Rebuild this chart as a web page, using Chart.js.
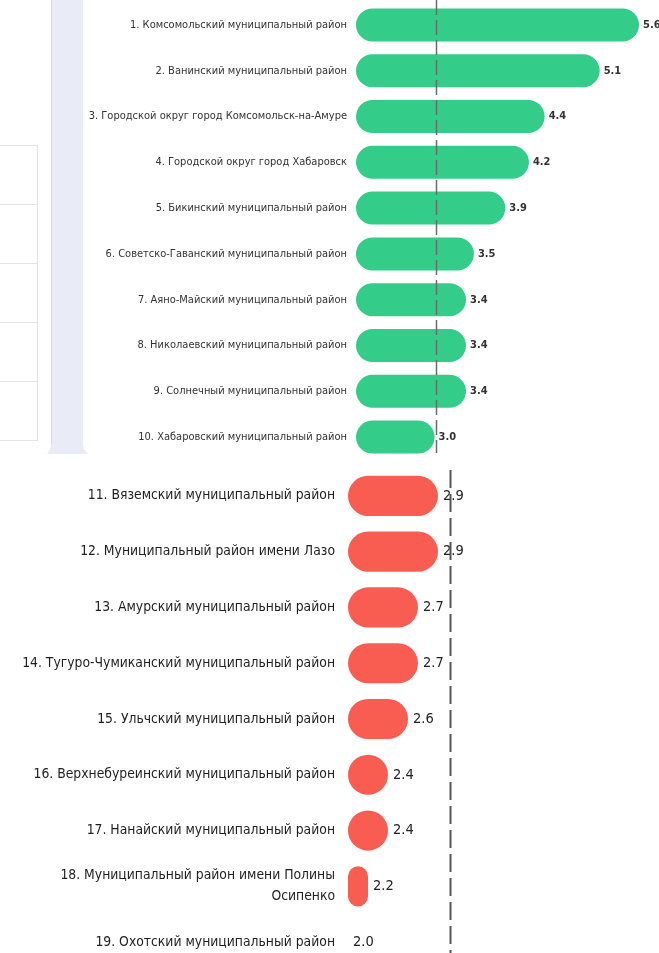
<!DOCTYPE html>
<html>
<head>
<meta charset="utf-8">
<script src="https://cdn.jsdelivr.net/npm/chart.js@4.4.1/dist/chart.umd.min.js"></script>
<style>
  html, body { margin:0; padding:0; background:#ffffff; width:659px; height:953px; overflow:hidden; }
  body { position:relative; }
  .tbl-v { position:absolute; left:37px; top:145px; width:1px; height:296px; background:#e4e4e8; }
  .tbl-h { position:absolute; left:0; width:38px; height:1px; background:#e4e4e8; }
  #panel { position:absolute; left:51px; top:0; width:32px; height:446px; background:#e9ecf7; border-left:1px solid #d8dbe7; box-sizing:border-box; }
  #panelFoot { position:absolute; left:47px; top:445px; width:41px; height:9px; background:#e9ecf7;
    clip-path: polygon(4px 0, 36px 0, 37px 4px, 41px 9px, 0 9px, 3px 4px); }
  #topWrap { position:absolute; left:0; top:0; width:659px; height:460px; }
  #botWrap { position:absolute; left:0; top:468px; width:659px; height:502px; }
  canvas { display:block; }
</style>
</head>
<body>
<div class="tbl-v"></div>
<div class="tbl-h" style="top:145px"></div>
<div class="tbl-h" style="top:204px"></div>
<div class="tbl-h" style="top:263px"></div>
<div class="tbl-h" style="top:322px"></div>
<div class="tbl-h" style="top:381px"></div>
<div class="tbl-h" style="top:440px"></div>
<div id="panel"></div>
<div id="panelFoot"></div>
<div id="topWrap"><canvas id="topChart" width="659" height="460"></canvas></div>
<div id="botWrap"><canvas id="botChart" width="659" height="502"></canvas></div>
<script>
// ---- data ----
const topLabels = [
  '1. Комсомольский муниципальный район',
  '2. Ванинский муниципальный район',
  '3. Городской округ город Комсомольск-на-Амуре',
  '4. Городской округ город Хабаровск',
  '5. Бикинский муниципальный район',
  '6. Советско-Гаванский муниципальный район',
  '7. Аяно-Майский муниципальный район',
  '8. Николаевский муниципальный район',
  '9. Солнечный муниципальный район',
  '10. Хабаровский муниципальный район'
];
const topValues = [5.6, 5.1, 4.4, 4.2, 3.9, 3.5, 3.4, 3.4, 3.4, 3.0];

const bottomLabels = [
  '11. Вяземский муниципальный район',
  '12. Муниципальный район имени Лазо',
  '13. Амурский муниципальный район',
  '14. Тугуро-Чумиканский муниципальный район',
  '15. Ульчский муниципальный район',
  '16. Верхнебуреинский муниципальный район',
  '17. Нанайский муниципальный район',
  ['18. Муниципальный район имени Полины', 'Осипенко'],
  '19. Охотский муниципальный район'
];
const bottomValues = [2.9, 2.9, 2.7, 2.7, 2.6, 2.4, 2.4, 2.2, 2.0];

const averageValue = 3.02;
const axisMin = 2.0;
const topAxisMax = 5.6;
const bottomAxisMax = 3.0;

// ---- plugins ----
const valueLabels = {
  id: 'valueLabels',
  afterDatasetsDraw(chart, args, opts) {
    const ctx = chart.ctx;
    const meta = chart.getDatasetMeta(0);
    const data = chart.data.datasets[0].data;
    ctx.save();
    ctx.font = opts.font;
    ctx.fillStyle = opts.color;
    ctx.textAlign = 'left';
    ctx.textBaseline = 'middle';
    meta.data.forEach((bar, i) => {
      ctx.fillText(data[i].toFixed(1), bar.x + opts.offset, bar.y + (opts.dy || 0));
    });
    ctx.restore();
  }
};
const avgLine = {
  id: 'avgLine',
  afterDatasetsDraw(chart, args, opts) {
    const ctx = chart.ctx;
    const x = Math.round(chart.scales.x.getPixelForValue(opts.value)) + 0.5;
    ctx.save();
    ctx.strokeStyle = opts.color;
    ctx.lineWidth = opts.width;
    ctx.setLineDash(opts.dash);
    ctx.beginPath();
    ctx.moveTo(x, chart.chartArea.top + opts.startOffset);
    ctx.lineTo(x, chart.chartArea.bottom - opts.endOffset);
    ctx.stroke();
    ctx.restore();
  }
};

const condensed = "'DejaVu Sans Condensed', 'Liberation Sans Narrow', sans-serif";

function makeChart(id, labels, values, cfg) {
  return new Chart(document.getElementById(id), {
    type: 'bar',
    data: {
      labels: labels,
      datasets: [{
        data: values,
        base: axisMin,
        backgroundColor: cfg.color,
        borderRadius: 40,
        borderSkipped: false
      }]
    },
    options: {
      indexAxis: 'y',
      responsive: false,
      animation: false,
      events: [],
      layout: { padding: cfg.padding },
      plugins: {
        legend: { display: false },
        tooltip: { enabled: false },
        valueLabels: cfg.valueLabels,
        avgLine: cfg.avgLine
      },
      scales: {
        x: { min: axisMin, max: cfg.max, display: false },
        y: {
          grid: { display: false, drawTicks: false },
          border: { display: false },
          ticks: {
            padding: cfg.tickPadding,
            color: cfg.labelColor,
            font: { family: condensed, size: cfg.labelSize, lineHeight: cfg.lineHeight }
          },
          afterFit(scale) {
            scale.width = cfg.axisWidth;
            scale.paddingTop = 0;
            scale.paddingBottom = 0;
          }
        }
      }
    },
    plugins: [valueLabels, avgLine]
  });
}

makeChart('topChart', topLabels, topValues, {
  color: '#33cd89',
  max: topAxisMax,
  padding: { top: 2, right: 20, bottom: 0, left: 0 },
  tickPadding: 9,
  labelColor: '#333333',
  labelSize: 11,
  lineHeight: 1.4,
  axisWidth: 356,
  valueLabels: { font: "bold 11px " + condensed, color: '#333333', offset: 4 },
  avgLine: { value: averageValue, color: '#6b6b6b', width: 1.5, dash: [15, 5], startOffset: -2, endOffset: 7 }
});

makeChart('botChart', bottomLabels, bottomValues, {
  color: '#f95d51',
  max: bottomAxisMax,
  padding: { top: 0, right: 211, bottom: 0, left: 0 },
  tickPadding: 13,
  labelColor: '#1f1f1f',
  labelSize: 13.8,
  lineHeight: 1.52,
  axisWidth: 348,
  valueLabels: { font: "14.5px " + condensed, color: '#222222', offset: 5 },
  avgLine: { value: averageValue, color: '#555555', width: 2, dash: [18, 6], startOffset: 2, endOffset: 0 }
});
</script>
</body>
</html>
